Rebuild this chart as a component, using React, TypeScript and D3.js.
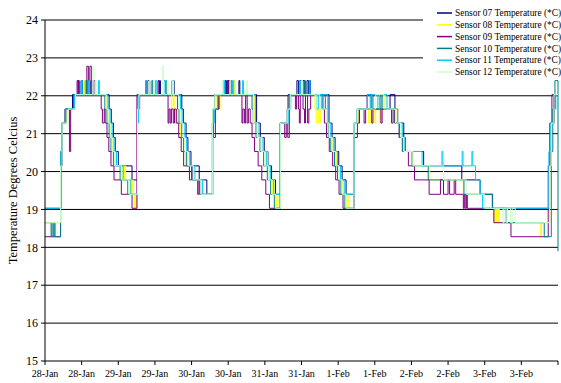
import React from "react";
import * as d3 from "d3";

const W = 561;
const H = 383;
const START = new Date(2008, 0, 28, 0, 0);
const END = new Date(2008, 1, 4, 0, 0);

const yTicks = [15, 16, 17, 18, 19, 20, 21, 22, 23, 24];

const sensorNames = [
  "Sensor 07 Temperature (*C)",
  "Sensor 08 Temperature (*C)",
  "Sensor 09 Temperature (*C)",
  "Sensor 10 Temperature (*C)",
  "Sensor 11 Temperature (*C)",
  "Sensor 12 Temperature (*C)",
];
const sensorColors = ["#000080", "#FFFF00", "#800080", "#008080", "#00CCFF", "#CCFFCC"];

// [hours since 28-Jan 00:00, temperature °C] — value holds until next point
const s07: [number, number][] = [
  [0,19.03],[5.2,20.15],[5.6,21.28],[6.8,21.65],[9.0,22.03],[10.8,22.4],[11.2,22.03],[11.8,22.4],[12.3,22.03],[13.1,22.4],[13.6,22.03],[15.0,22.4],[15.6,22.03],
  [21.0,21.65],[21.7,21.28],[22.4,20.9],[23.0,20.53],[24.0,20.15],[28.5,19.78],[30.3,21.65],[30.7,22.03],
  [33.7,22.4],[34.3,22.03],[37.5,22.4],[37.8,22.03],[42.0,22.4],[42.3,22.03],
  [44.8,21.65],[45.3,21.28],[46.2,20.9],[46.8,20.53],[47.8,20.15],[50.5,19.78],[53.0,19.4],[54.9,21.28],[55.3,21.65],[56.8,22.03],
  [59.0,22.4],[59.4,22.03],[59.7,22.4],[60.2,22.03],[60.4,22.4],[60.7,22.03],[63.5,22.4],[63.8,22.03],
  [69.3,21.28],[70.5,20.9],[71.8,20.53],[73.0,20.15],[74.2,19.78],[75.5,19.4],[77.1,21.28],[79.6,22.03],
  [82.5,22.4],[83.0,22.03],[83.5,22.4],[84.0,22.03],[84.5,22.4],[85.0,22.03],[85.8,22.4],[86.3,22.03],[86.6,22.4],[86.9,22.03],
  [93.0,21.28],[94.0,20.9],[95.0,20.53],[96.2,20.15],[97.3,19.78],[98.6,19.4],[101.3,21.28],[102.5,21.65],[105.5,22.03],[106.8,21.65],[113.0,22.03],[114.6,21.65],[115.5,21.28],
  [117.5,20.9],[118.0,20.53],[124.0,20.15],[136.5,19.78],[142.5,19.4],[146.5,19.03],[165.2,20.15],[165.8,21.28],[166.8,22.03],[168,22.03],
];

const s08: [number, number][] = [
  [0,18.65],[5.1,20.53],[5.5,21.28],[7.2,21.65],[9.8,22.03],[13.0,22.4],[13.4,22.03],[13.8,22.4],[14.2,22.03],
  [20.2,21.65],[20.9,21.28],[21.6,20.9],[22.2,20.53],[23.0,20.15],[25.2,19.78],[25.5,20.15],[25.8,19.78],[26.1,20.15],[26.4,19.78],[27.7,19.4],[28.0,19.78],[28.3,19.4],[28.6,19.78],[28.9,19.4],[29.2,19.03],[29.5,19.4],[29.8,19.03],[30.3,21.65],[30.8,22.03],
  [41.5,21.65],[42.0,22.03],[42.3,21.65],[42.8,21.28],[43.1,21.65],[43.4,21.28],[44.3,20.9],[45.3,20.53],[46.0,20.15],[46.3,20.53],[46.6,20.15],[48.7,19.78],[51.2,19.4],[51.5,19.78],[51.8,19.4],[54.9,21.65],[56.0,22.03],
  [57.0,21.65],[57.3,22.03],[62.0,22.4],[62.3,22.03],
  [68.5,21.28],[69.7,20.9],[71.0,20.53],[72.2,20.15],[72.5,20.53],[72.8,20.15],[73.4,19.78],[74.5,19.4],[74.8,19.78],[75.1,19.4],[75.7,19.03],[76.0,19.4],[76.3,19.03],[77.1,21.28],[80.0,22.03],
  [88.4,21.65],[88.8,21.28],[89.1,21.65],[89.4,21.28],[89.7,21.65],[90.0,21.28],[90.3,21.65],[92.4,21.28],
  [93.2,20.9],[94.2,20.53],[95.4,20.15],[96.4,19.78],[97.5,19.4],[98.8,19.03],[99.2,19.4],[99.5,19.03],[101.2,21.28],[102.5,21.65],
  [106.0,21.28],[106.5,21.65],[108.0,21.28],[108.3,21.65],[109.5,21.28],[109.8,21.65],[111.0,22.03],[111.4,21.65],[115.3,21.28],[116.8,20.9],[117.8,20.53],[120.5,20.15],[126.0,19.78],[137.0,19.4],[143.5,19.03],
  [147.0,18.65],[147.3,19.03],[147.6,18.65],[147.9,19.03],[148.2,18.65],[148.5,19.03],[148.8,18.65],[162.2,18.28],[162.6,18.65],[165.3,20.15],[165.8,21.28],[166.6,22.03],[168,22.03],
];

const s09: [number, number][] = [
  [0,18.28],[5.1,20.15],[5.5,21.28],[6.5,21.65],[8.0,20.53],[8.4,21.65],[9.4,22.03],[10.5,22.4],[11.0,22.03],[13.7,22.78],[14.2,22.03],[14.7,22.78],[15.2,22.03],[16.0,22.4],[16.4,22.03],[18.4,21.65],[18.8,21.28],[19.4,21.65],[19.7,21.28],[20.3,20.9],[20.9,20.53],[21.6,20.15],[22.6,19.78],[25.0,19.4],[28.5,19.03],[30.1,22.03],[30.5,21.65],[31.0,22.03],
  [33.0,22.4],[33.3,22.03],[37.0,22.4],[37.3,22.03],[40.3,21.28],[40.6,21.65],[41.0,21.28],[41.4,21.65],[42.0,21.28],[42.4,21.65],[43.0,21.28],[43.8,20.9],[44.6,20.53],[45.4,20.15],[47.3,19.78],[48.0,20.15],[48.3,19.78],[50.0,19.4],[50.4,19.78],[50.8,19.4],[54.8,21.28],[55.2,20.9],[55.8,21.65],[57.0,22.03],
  [60.0,22.4],[60.3,22.03],[64.5,21.28],[64.8,21.65],[65.3,21.28],[65.7,22.03],[66.2,21.28],[66.6,21.65],[67.2,21.28],
  [67.8,20.9],[68.6,20.53],[69.8,20.15],[71.0,19.78],[72.3,19.4],[73.5,19.03],[77.0,21.28],[78.5,20.9],[79.0,21.28],[79.5,20.9],[80.0,22.03],
  [82.0,21.65],[82.4,22.03],[83.0,21.65],[83.3,21.28],[83.6,22.03],[84.5,21.65],[85.0,21.28],[85.3,22.03],[86.0,21.28],[86.4,21.65],[87.0,22.03],[91.0,21.65],[91.5,21.28],
  [92.2,20.9],[93.1,20.53],[94.2,20.15],[95.2,19.78],[96.3,19.4],[97.6,19.03],[101.2,20.9],[102.3,21.28],[103.0,21.65],[104.5,21.28],[105.0,21.65],[107.0,21.28],[107.4,21.65],[110.0,21.28],[110.4,21.65],[113.5,21.28],[114.0,21.65],[114.5,21.28],
  [116.0,20.9],[117.2,20.53],[119.0,20.15],[121.0,19.78],[125.8,19.4],[129.5,19.78],[130.5,19.4],[132.0,19.78],[132.5,19.4],[134.0,19.78],[134.5,19.4],[137.0,19.03],[137.3,19.4],[137.6,19.03],[138.0,19.4],[138.3,19.03],[147.0,18.65],[152.6,18.28],[164.8,20.15],[165.3,21.28],[166.0,22.03],[166.6,21.65],[167.0,22.03],[168,22.03],
];

const s10: [number, number][] = [
  [0,18.65],[2.0,18.28],[2.3,18.65],[2.7,18.28],[3.0,18.65],[3.3,18.28],[5.1,20.53],[5.6,21.28],[6.8,21.65],[9.5,22.03],[13.5,22.4],[13.8,22.03],[19.6,21.65],[20.3,21.28],[21.0,20.9],[21.6,20.53],[22.4,20.15],[24.6,19.78],[27.1,19.4],[30.3,21.65],[30.8,22.03],
  [35.0,22.4],[35.3,22.03],[39.5,22.4],[39.8,22.03],[43.4,21.65],[43.9,21.28],[44.8,20.9],[45.4,20.53],[46.4,20.15],[48.1,19.78],[50.6,19.4],[54.9,21.65],[55.5,22.03],
  [61.0,22.4],[61.3,22.03],[67.8,21.65],[68.2,21.28],[69.1,20.9],[70.4,20.53],[71.6,20.15],[72.8,19.78],[73.9,19.4],[75.1,19.03],[77.1,21.28],[79.3,21.65],[80.0,22.03],
  [85.0,22.4],[85.3,22.03],[91.8,21.65],[92.3,21.28],[92.8,20.9],[93.6,20.53],[94.8,20.15],[95.8,19.78],[96.9,19.4],[98.2,19.03],[101.2,21.28],[102.2,21.65],[107.0,22.03],[107.4,21.65],[110.0,22.03],[110.4,21.65],[114.6,21.28],
  [116.0,20.9],[117.0,20.53],[120.2,20.15],[125.5,19.78],[137.2,19.4],[146.6,19.03],[151.0,18.65],[163.5,18.28],[165.8,20.53],[166.3,21.65],[167.0,22.4],[168,17.9],
];

const s11: [number, number][] = [
  [0,19.03],[5.2,20.53],[5.5,21.28],[6.6,21.65],[9.6,22.03],[11.8,22.4],[12.2,22.03],[14.3,22.4],[14.6,22.03],[17.5,22.4],[17.8,22.03],
  [20.6,21.65],[21.3,21.28],[22.0,20.9],[22.6,20.53],[23.4,20.15],[25.6,19.78],[28.1,19.4],[30.3,21.28],[30.6,22.03],
  [33.0,22.4],[33.4,22.03],[36.2,22.4],[36.6,22.03],[38.8,22.4],[39.3,22.03],[41.5,22.4],[41.8,22.03],
  [44.4,21.65],[44.9,21.28],[45.8,20.9],[46.4,20.53],[47.4,20.15],[49.1,19.78],[51.6,19.4],[54.9,21.28],[55.4,21.65],[56.5,22.03],
  [58.5,22.4],[58.8,22.03],[61.5,22.4],[61.8,22.03],[64.7,22.4],[65.0,22.03],
  [68.9,21.28],[70.1,20.9],[71.4,20.53],[72.6,20.15],[73.8,19.78],[74.9,19.4],[77.1,21.28],[79.8,21.65],[80.5,22.03],
  [83.3,22.4],[83.6,22.03],[86.5,22.4],[86.8,22.03],[89.0,21.65],[89.5,22.03],[90.5,21.65],[91.0,22.03],
  [92.6,21.65],[93.1,21.28],[93.6,20.9],[94.6,20.53],[95.8,20.15],[96.8,19.78],[98.0,19.4],[101.2,21.28],[102.3,21.65],[105.6,22.03],[106.5,21.65],[107.0,22.03],[109.0,21.65],[109.5,22.03],[112.0,21.65],[114.8,21.28],
  [117.0,20.9],[117.8,20.53],[123.5,20.15],[130.0,20.53],[130.3,20.15],[136.6,20.53],[136.9,20.15],[139.8,20.53],[140.1,20.15],[141.0,19.78],[142.5,19.4],[143.3,19.03],[165.0,20.53],[165.5,21.28],[166.5,21.65],[167.3,22.03],[168,22.03],
];

const s12: [number, number][] = [
  [0,18.65],[5.1,20.15],[5.6,21.28],[7.6,21.65],[10.0,22.03],[15.5,22.78],[16.0,22.03],[16.5,22.4],[16.8,22.03],[20.0,21.65],[20.7,21.28],[21.4,20.9],[22.0,20.53],[22.8,20.15],[25.0,19.78],[27.5,19.4],[30.3,21.65],[30.8,22.03],
  [34.0,22.4],[34.3,22.03],[35.6,22.4],[35.9,22.03],[38.4,22.78],[38.8,22.03],[40.0,22.4],[40.3,22.03],[41.8,22.4],[42.1,22.03],[43.8,21.65],[44.3,21.28],[45.2,20.9],[45.8,20.53],[46.8,20.15],[48.5,19.78],[51.0,19.4],[54.9,21.65],[55.6,22.03],
  [58.0,22.4],[58.3,22.03],[60.5,22.4],[60.8,22.03],[66.0,22.4],[66.3,22.03],
  [68.3,21.28],[69.5,20.9],[70.8,20.53],[72.0,20.15],[73.2,19.78],[74.3,19.4],[75.5,19.03],[77.1,21.28],[79.5,21.65],[80.3,22.03],
  [84.0,22.4],[84.3,22.03],[88.5,21.65],[89.0,22.03],[90.0,21.65],[92.2,21.28],
  [93.0,20.9],[94.0,20.53],[95.2,20.15],[96.2,19.78],[97.3,19.4],[98.6,19.03],[101.2,21.28],[102.3,21.65],[108.3,22.03],[111.0,21.65],[114.8,21.28],[116.5,20.9],[117.5,20.53],[120.5,20.15],[130.5,19.78],[138.0,19.4],[144.0,19.03],
  [150.0,18.65],[150.3,19.03],[151.0,18.65],[151.5,19.03],[152.5,18.65],[153.0,19.03],[154.0,18.65],[165.2,20.15],[165.8,21.28],[166.7,22.03],[168,22.03],
];

const seriesData = [s07, s08, s09, s10, s11, s12];

const FONT = "Liberation Serif, Times New Roman, Times, serif";

export default function App() {
  const left = 45;
  const right = 558;
  const top = 20;
  const bottom = 361;

  const x = d3.scaleTime().domain([START, END]).range([left, right]);
  const y = d3.scaleLinear().domain([15, 24]).range([bottom, top]);

  const toDate = (h: number) => new Date(START.getTime() + h * 3600 * 1000);

  const line = d3
    .line<[number, number]>()
    .x((d) => x(toDate(d[0])))
    .y((d) => y(d[1]))
    .curve(d3.curveStepAfter);

  const xTicks = x.ticks(d3.timeHour.every(12) as any);
  const fmt = d3.timeFormat("%-d-%b");

  const legendX = 437;
  const legendY0 = 13;
  const legendDy = 11.8;
  const txt = { fontFamily: FONT };

  return (
    <svg
      width={W}
      height={H}
      style={{ position: "absolute", left: 0, top: 0, background: "#fff" }}
    >
      <rect x={0} y={0} width={W} height={H} fill="#fff" />
      {yTicks.filter((t) => t !== 15).map((t) => (
        <line key={t} x1={left} x2={right} y1={y(t)} y2={y(t)} stroke="#000" strokeWidth={1} />
      ))}
      {seriesData.map((s, i) => (
        <path key={i} d={line(s) || ""} fill="none" stroke={sensorColors[i]} strokeWidth={1} />
      ))}
      <line x1={left} x2={left} y1={top} y2={bottom} stroke="#000" strokeWidth={1} />
      {yTicks.map((t) => (
        <g key={t}>
          <line x1={left - 4} x2={left} y1={y(t)} y2={y(t)} stroke="#000" />
          <text x={left - 7} y={y(t)} dy="0.35em" textAnchor="end" fontSize={12} fill="#000" style={txt}>
            {t}
          </text>
        </g>
      ))}
      <line x1={left} x2={right} y1={bottom} y2={bottom} stroke="#000" strokeWidth={1} />
      {xTicks.map((t, i) => (
        <g key={i}>
          <line x1={x(t)} x2={x(t)} y1={bottom} y2={bottom + 4} stroke="#000" />
          {i < xTicks.length - 1 && (
            <text x={x(t)} y={bottom + 16} textAnchor="middle" fontSize={10} fill="#000" style={txt}>
              {fmt(t)}
            </text>
          )}
        </g>
      ))}
      <text
        transform={`translate(17,${(top + bottom) / 2}) rotate(-90)`}
        textAnchor="middle"
        fontSize={12.5}
        fill="#000"
        style={txt}
      >
        Temperature Degrees Celcius
      </text>
      <rect x={423} y={0} width={138} height={78} fill="#fff" />
      {sensorNames.map((n, i) => (
        <g key={n}>
          <line
            x1={legendX}
            x2={legendX + 15}
            y1={legendY0 + i * legendDy}
            y2={legendY0 + i * legendDy}
            stroke={sensorColors[i]}
            strokeWidth={1.5}
          />
          <text x={legendX + 18} y={legendY0 + i * legendDy} dy="0.35em" fontSize={9.4} fill="#000" style={txt}>
            {n}
          </text>
        </g>
      ))}
    </svg>
  );
}
